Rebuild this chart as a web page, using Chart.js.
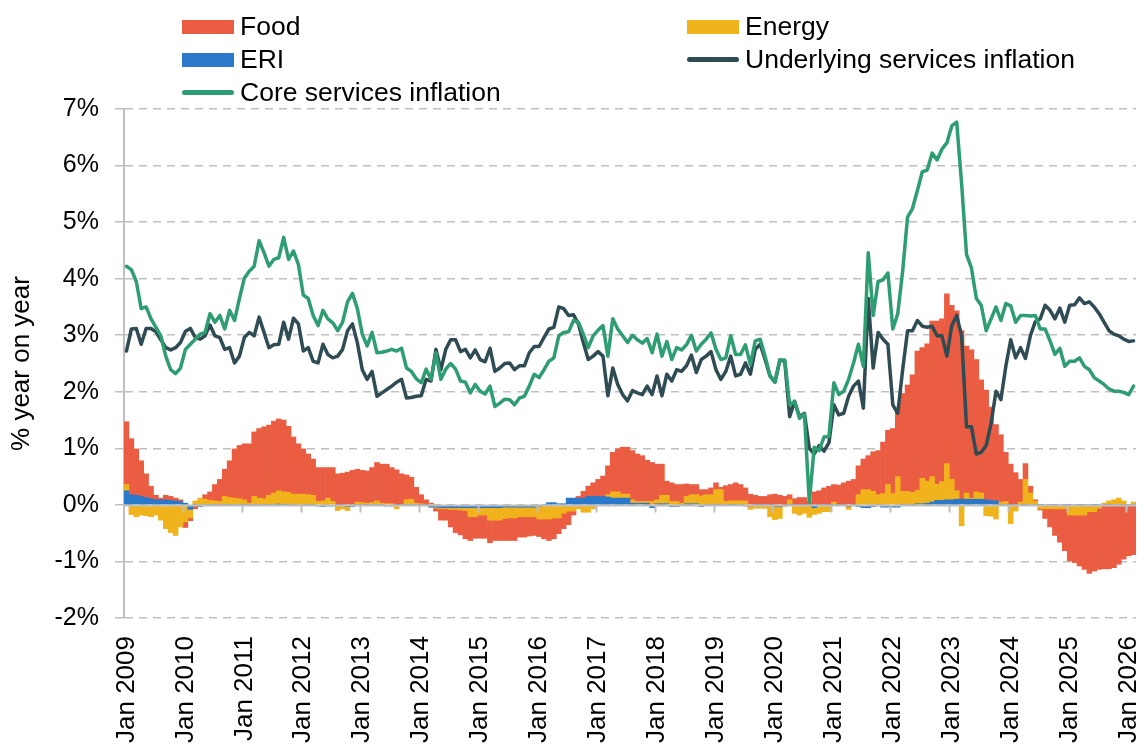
<!DOCTYPE html>
<html>
<head>
<meta charset="utf-8">
<script src="https://cdn.jsdelivr.net/npm/chart.js@4/dist/chart.umd.min.js"></script>
<style>
  body { margin: 0; background: #fff; }
  #wrap { position: relative; width: 1140px; height: 744px; }
  #chart { position: absolute; left: 0; top: 0; }
  #legend {
    position: absolute; left: 182px; top: 10px;
    display: grid; grid-template-columns: 505px 440px; grid-auto-rows: 33px;
    font: 26.5px "Liberation Sans", Arial, sans-serif; color: #000;
  }
  #legend .item { display: flex; align-items: center; white-space: nowrap; }
  #legend .box { width: 52px; height: 14px; margin-right: 6px; }
  #legend .line { width: 52px; height: 5px; border-radius: 3px; margin-right: 6px; }
</style>
</head>
<body>
<div id="wrap">
  <canvas id="chart" width="1140" height="744"></canvas>
  <div id="legend"></div>
</div>
<script>
// monthly contributions, Jan 2009 - Feb 2026 (one row per year)
const food = [
  1.11, 0.99, 0.82, 0.63, 0.42, 0.22, 0.08, 0.03, 0.08, 0.07, 0.05, 0.03,
  -0.10, -0.05, -0.07, 0.00, 0.08, 0.15, 0.29, 0.39, 0.48, 0.65, 0.87, 0.94,
  0.99, 1.05, 1.14, 1.23, 1.27, 1.24, 1.27, 1.27, 1.27, 1.17, 1.01, 0.89,
  0.80, 0.72, 0.64, 0.60, 0.59, 0.54, 0.60, 0.55, 0.56, 0.58, 0.61, 0.58,
  0.57, 0.57, 0.62, 0.68, 0.69, 0.70, 0.64, 0.62, 0.55, 0.44, 0.39, 0.28,
  0.16, 0.08, 0.03, -0.05, -0.20, -0.20, -0.31, -0.41, -0.44, -0.50, -0.42, -0.38,
  -0.41, -0.41, -0.40, -0.36, -0.36, -0.39, -0.40, -0.40, -0.36, -0.36, -0.34, -0.33,
  -0.31, -0.35, -0.38, -0.37, -0.28, -0.27, -0.24, -0.07, 0.03, 0.12, 0.18, 0.24,
  0.30, 0.36, 0.51, 0.70, 0.76, 0.83, 0.83, 0.87, 0.84, 0.81, 0.73, 0.69,
  0.63, 0.55, 0.25, 0.33, 0.30, 0.33, 0.22, 0.18, 0.18, 0.11, 0.09, 0.12,
  0.12, 0.04, 0.28, 0.29, 0.32, 0.29, 0.23, 0.19, 0.17, 0.15, 0.15, 0.18,
  0.19, 0.17, 0.15, 0.09, 0.11, 0.13, 0.13, 0.06, 0.23, 0.25, 0.30, 0.33,
  0.31, 0.35, 0.39, 0.42, 0.45, 0.51, 0.54, 0.60, 0.70, 0.78, 0.91, 0.96,
  1.15, 1.20, 1.73, 1.88, 2.08, 2.46, 2.31, 2.43, 2.75, 2.89, 2.88, 3.00,
  3.08, 3.18, 2.98, 2.60, 2.62, 2.34, 2.00, 1.94, 1.65, 1.35, 1.19, 0.87,
  0.72, 0.57, 0.40, 0.28, 0.12, 0.03, -0.02, -0.17, -0.32, -0.47, -0.59, -0.74,
  -0.81, -0.84, -0.90, -0.96, -1.09, -1.05, -1.08, -1.13, -1.13, -1.11, -1.05, -0.96,
  -0.90, -0.88
];
const energy = [
  0.11, -0.17, -0.21, -0.18, -0.19, -0.21, -0.18, -0.27, -0.42, -0.49, -0.54, -0.39,
  -0.30, -0.15, 0.07, 0.12, 0.10, 0.08, 0.07, 0.06, 0.15, 0.13, 0.12, 0.11,
  0.09, 0.03, 0.15, 0.12, 0.11, 0.17, 0.21, 0.24, 0.23, 0.22, 0.19, 0.19,
  0.19, 0.18, 0.17, 0.06, 0.07, 0.12, 0.06, -0.10, -0.07, -0.07, 0.00, 0.05,
  0.04, 0.03, 0.04, 0.07, 0.03, 0.02, 0.02, -0.07, 0.00, 0.09, 0.10, 0.03,
  0.02, 0.01, 0.00, -0.02, -0.02, -0.02, -0.03, -0.03, -0.04, -0.05, -0.16, -0.16,
  -0.13, -0.13, -0.22, -0.22, -0.22, -0.20, -0.19, -0.19, -0.17, -0.17, -0.17, -0.17,
  -0.22, -0.25, -0.25, -0.23, -0.23, -0.15, -0.11, -0.11, -0.07, -0.13, -0.13, -0.07,
  0.00, 0.00, 0.04, 0.11, 0.11, 0.07, 0.07, 0.06, 0.03, 0.03, 0.03, 0.06,
  0.07, 0.15, 0.15, 0.06, 0.06, 0.03, 0.13, 0.16, 0.16, 0.16, 0.18, 0.18,
  0.27, 0.27, 0.06, 0.07, 0.07, 0.07, 0.07, -0.06, -0.06, -0.06, -0.06, -0.21,
  -0.23, -0.21, -0.03, 0.09, -0.15, -0.18, -0.15, -0.22, -0.12, -0.15, -0.12, -0.12,
  0.05, 0.00, 0.00, -0.05, 0.00, 0.18, 0.27, 0.27, 0.24, 0.18, 0.20, 0.36,
  0.20, 0.50, 0.24, 0.24, 0.22, 0.24, 0.45, 0.39, 0.45, 0.28, 0.33, 0.64,
  0.36, 0.15, -0.37, 0.11, 0.02, 0.13, 0.11, -0.19, -0.20, -0.25, 0.05, 0.06,
  -0.33, -0.11, 0.05, 0.45, 0.21, 0.06, -0.07, -0.07, -0.07, -0.07, -0.07, -0.07,
  -0.18, -0.18, -0.18, -0.18, -0.12, -0.12, -0.06, 0.03, 0.07, 0.09, 0.12, 0.07,
  0.00, 0.05
];
const eri = [
  0.25, 0.18, 0.17, 0.15, 0.13, 0.11, 0.09, 0.09, 0.09, 0.08, 0.07, 0.06,
  0.03, -0.08, 0.00, -0.03, 0.00, 0.00, 0.00, 0.00, 0.00, 0.00, 0.00, 0.00,
  0.00, 0.00, 0.00, 0.00, 0.00, 0.00, 0.00, 0.01, 0.00, 0.00, 0.00, -0.01,
  0.00, 0.00, 0.00, -0.02, -0.03, -0.02, -0.02, 0.00, 0.00, -0.03, -0.03, 0.00,
  0.00, 0.00, 0.00, 0.00, 0.00, -0.02, -0.02, 0.00, 0.00, 0.00, 0.00, 0.00,
  0.00, 0.00, -0.04, -0.04, -0.05, -0.05, -0.05, -0.05, -0.05, -0.05, -0.05, -0.05,
  -0.05, -0.05, -0.05, -0.05, -0.05, -0.04, -0.04, -0.04, -0.04, -0.04, -0.04, -0.04,
  -0.03, 0.00, 0.04, 0.04, 0.02, 0.02, 0.12, 0.12, 0.12, 0.12, 0.15, 0.15,
  0.15, 0.15, 0.14, 0.12, 0.12, 0.12, 0.12, 0.03, 0.03, 0.03, 0.03, -0.05,
  0.02, 0.02, 0.02, -0.03, -0.03, 0.00, 0.02, 0.02, 0.02, -0.03, 0.00, 0.00,
  0.00, 0.00, 0.00, 0.00, 0.00, 0.00, -0.02, -0.02, 0.00, 0.00, 0.00, 0.00,
  -0.03, -0.03, 0.00, 0.00, 0.00, 0.00, 0.00, 0.00, -0.05, 0.00, 0.00, 0.00,
  0.00, 0.00, 0.00, -0.03, 0.00, -0.03, -0.05, -0.05, -0.03, 0.00, -0.04, -0.04,
  -0.04, -0.04, 0.00, 0.00, 0.00, 0.02, 0.02, 0.03, 0.05, 0.08, 0.08, 0.09,
  0.09, 0.10, 0.10, 0.10, 0.10, 0.10, 0.10, 0.09, 0.08, 0.07, 0.00, 0.00,
  0.00, 0.00, 0.00, 0.00, 0.00, 0.00, 0.00, 0.00, 0.00, 0.00, 0.00, 0.00,
  0.00, 0.00, 0.00, 0.00, 0.00, 0.00, 0.00, 0.00, 0.00, 0.00, 0.00, 0.00,
  0.00, 0.00
];
const underlying = [
  2.72, 3.11, 3.12, 2.84, 3.12, 3.12, 3.06, 2.92, 2.78, 2.74, 2.78, 2.87,
  3.07, 3.12, 2.96, 2.93, 2.99, 3.18, 2.99, 2.96, 2.75, 2.78, 2.51, 2.63,
  2.96, 3.05, 2.99, 3.32, 3.05, 2.78, 2.83, 2.84, 3.23, 2.93, 3.30, 3.20,
  2.72, 2.78, 2.54, 2.51, 2.84, 2.66, 2.60, 2.63, 2.75, 3.08, 3.20, 2.87,
  2.39, 2.22, 2.36, 1.92, 1.98, 2.04, 2.10, 2.17, 2.22, 1.89, 1.90, 1.92,
  1.93, 2.22, 2.19, 2.75, 2.39, 2.75, 2.92, 2.92, 2.71, 2.75, 2.60, 2.74,
  2.57, 2.53, 2.77, 2.36, 2.42, 2.50, 2.51, 2.39, 2.46, 2.46, 2.69, 2.80,
  2.80, 2.96, 3.11, 3.14, 3.50, 3.47, 3.35, 3.36, 3.20, 2.87, 2.57, 2.63,
  2.71, 2.63, 1.93, 2.42, 2.13, 1.95, 1.84, 2.02, 1.98, 1.95, 2.10, 1.95,
  2.28, 1.93, 2.31, 2.19, 2.39, 2.36, 2.46, 2.65, 2.34, 2.57, 2.63, 2.71,
  2.39, 2.22, 2.36, 2.63, 2.28, 2.31, 2.51, 2.31, 2.75, 2.84, 2.57, 2.28,
  2.17, 2.56, 2.54, 1.56, 1.83, 1.56, 1.62, 1.00, 0.90, 1.05, 0.95, 1.10,
  1.77, 1.59, 1.62, 1.92, 2.10, 2.19, 1.71, 3.65, 2.42, 3.05, 2.93, 2.84,
  1.77, 1.62, 2.39, 3.08, 3.08, 3.26, 3.16, 3.14, 3.16, 2.99, 2.99, 2.63,
  3.17, 3.35, 2.99, 1.38, 1.38, 0.90, 0.93, 1.05, 1.44, 2.01, 1.86, 2.45,
  2.92, 2.60, 2.78, 2.59, 2.99, 3.24, 3.29, 3.53, 3.44, 3.29, 3.48, 3.23,
  3.53, 3.54, 3.66, 3.56, 3.59, 3.50, 3.38, 3.23, 3.08, 3.02, 2.99, 2.93,
  2.89, 2.90
];
const core = [
  4.22, 4.16, 3.95, 3.47, 3.50, 3.29, 3.14, 2.99, 2.63, 2.39, 2.32, 2.42,
  2.75, 2.84, 2.93, 3.02, 3.05, 3.38, 3.23, 3.35, 3.11, 3.44, 3.26, 3.65,
  4.01, 4.13, 4.22, 4.67, 4.46, 4.22, 4.34, 4.37, 4.73, 4.34, 4.49, 4.25,
  3.71, 3.65, 3.35, 3.17, 3.44, 3.29, 3.22, 3.08, 3.23, 3.59, 3.74, 3.47,
  3.02, 2.81, 3.05, 2.69, 2.70, 2.72, 2.75, 2.72, 2.77, 2.42, 2.36, 2.23,
  2.16, 2.40, 2.22, 2.69, 2.22, 2.40, 2.50, 2.40, 2.19, 2.17, 1.98, 2.13,
  2.01, 1.96, 2.10, 1.74, 1.80, 1.87, 1.86, 1.77, 1.89, 1.92, 2.10, 2.31,
  2.25, 2.39, 2.54, 2.60, 2.99, 3.05, 3.06, 3.26, 3.23, 3.02, 2.78, 2.99,
  3.09, 3.17, 2.63, 3.29, 3.11, 2.99, 2.87, 3.00, 2.92, 2.86, 2.94, 2.69,
  3.02, 2.63, 2.89, 2.57, 2.78, 2.74, 2.83, 3.00, 2.72, 2.84, 2.93, 3.04,
  2.75, 2.57, 2.60, 2.99, 2.66, 2.66, 2.83, 2.48, 2.90, 2.93, 2.63, 2.28,
  2.17, 2.56, 2.56, 1.77, 1.83, 1.53, 1.61, 0.05, 1.02, 0.96, 1.20, 1.21,
  2.16, 1.95, 2.01, 2.22, 2.51, 2.84, 2.45, 4.46, 3.35, 3.95, 3.98, 4.10,
  3.11, 3.38, 4.13, 5.09, 5.24, 5.56, 5.89, 5.92, 6.22, 6.10, 6.29, 6.40,
  6.70, 6.77, 5.68, 4.43, 4.19, 3.65, 3.53, 3.08, 3.29, 3.50, 3.26, 3.56,
  3.52, 3.23, 3.35, 3.35, 3.34, 3.35, 3.11, 3.11, 2.90, 2.66, 2.77, 2.45,
  2.54, 2.54, 2.60, 2.45, 2.39, 2.25, 2.19, 2.13, 2.05, 2.01, 2.01, 1.99,
  1.95, 2.10
];
const yTicks = [-2, -1, 0, 1, 2, 3, 4, 5, 6, 7];

const monthNames = ['Jan', 'Feb', 'Mar', 'Apr', 'May', 'Jun', 'Jul', 'Aug', 'Sep', 'Oct', 'Nov', 'Dec'];
const months = [];
for (let i = 0; i < food.length; i++) {
  months.push(monthNames[i % 12] + ' ' + (2009 + Math.floor(i / 12)));
}

const grey = '#bfbfbf';
const font = '"Liberation Sans", Arial, sans-serif';

// solid zero line with year tick marks, drawn over the bars but under the lines
const zeroAxis = {
  id: 'zeroAxis',
  afterDatasetDraw(chart, args) {
    if (args.index !== 2) return;
    const { ctx, chartArea, scales: { x, y } } = chart;
    const y0 = Math.round(y.getPixelForValue(0)) + 0.5;
    const half = (x.getPixelForValue(1) - x.getPixelForValue(0)) / 2;
    ctx.save();
    ctx.strokeStyle = grey;
    ctx.lineWidth = 2;
    ctx.beginPath();
    ctx.moveTo(chartArea.left, y0);
    ctx.lineTo(chartArea.right, y0);
    for (let i = 12; i < months.length; i += 12) {
      const px = Math.round(x.getPixelForValue(i) - half) + 0.5;
      ctx.moveTo(px, y0);
      ctx.lineTo(px, y0 + 7);
    }
    ctx.stroke();
    ctx.restore();
  }
};

const chart = new Chart(document.getElementById('chart'), {
  type: 'bar',
  data: {
    labels: months,
    datasets: [
      { type: 'line', label: 'Core services inflation', data: core, stack: 'core', order: 0,
        borderColor: '#2e9e72', backgroundColor: '#2e9e72', borderWidth: 3.5,
        pointRadius: 0, tension: 0, borderJoinStyle: 'round', borderCapStyle: 'round' },
      { type: 'line', label: 'Underlying services inflation', data: underlying, stack: 'und', order: 1,
        borderColor: '#2f4b54', backgroundColor: '#2f4b54', borderWidth: 3.5,
        pointRadius: 0, tension: 0, borderJoinStyle: 'round', borderCapStyle: 'round' },
      { label: 'ERI', data: eri, stack: 'cpi', order: 2, backgroundColor: '#2978c9' },
      { label: 'Energy', data: energy, stack: 'cpi', order: 2, backgroundColor: '#f0b31b' },
      { label: 'Food', data: food, stack: 'cpi', order: 2, backgroundColor: '#eb5d42' }
    ]
  },
  options: {
    responsive: false,
    animation: false,
    devicePixelRatio: 1,
    datasets: { bar: { barPercentage: 1, categoryPercentage: 1, borderWidth: 0 } },
    layout: { padding: { top: 109, right: 4, bottom: 0, left: 0 } },
    plugins: { legend: { display: false }, tooltip: { enabled: false } },
    scales: {
      x: {
        stacked: true,
        grid: { display: false, drawTicks: false },
        border: { display: false },
        ticks: {
          autoSkip: false, minRotation: 90, maxRotation: 90, padding: 18,
          color: '#000', font: { family: font, size: 26 },
          callback: function (value, index) { return index % 12 === 0 ? months[index] : ''; }
        },
        afterFit: function (scale) {
          scale.height = 126;
          scale.paddingLeft = 0;
          scale.paddingRight = 0;
        }
      },
      y: {
        stacked: true,
        min: -2, max: 7,
        afterBuildTicks: function (scale) { scale.ticks = yTicks.map(v => ({ value: v })); },
        grid: { color: grey, lineWidth: 1.5, tickLength: 9, tickColor: grey, tickWidth: 1.5 },
        border: { display: true, color: grey, width: 2, dash: [8, 6] },
        ticks: {
          padding: 16, color: '#000', font: { family: font, size: 25 },
          callback: function (value) { return value + '%'; }
        },
        title: {
          display: true, text: '% year on year', color: '#000',
          font: { family: font, size: 26 }, padding: { top: 6, bottom: 0 }
        },
        afterFit: function (scale) {
          scale.width = 124;
          scale.paddingTop = 0;
          scale.paddingBottom = 0;
        }
      }
    }
  },
  plugins: [zeroAxis]
});

// two-column legend in the order Food, Energy, ERI, Underlying, Core
const legendOrder = ['Food', 'Energy', 'ERI', 'Underlying services inflation', 'Core services inflation'];
const legendEl = document.getElementById('legend');
legendOrder.forEach(function (name) {
  const ds = chart.data.datasets.find(d => d.label === name);
  const item = document.createElement('div');
  item.className = 'item';
  const mark = document.createElement('span');
  mark.className = ds.type === 'line' ? 'line' : 'box';
  mark.style.background = ds.backgroundColor;
  item.appendChild(mark);
  item.appendChild(document.createTextNode(name));
  legendEl.appendChild(item);
});
</script>
</body>
</html>
